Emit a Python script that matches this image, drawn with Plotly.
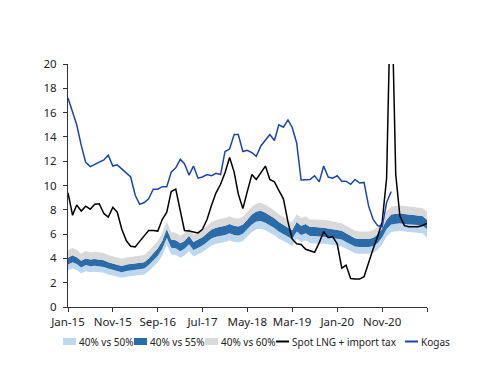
import pandas as pd
import plotly.graph_objects as go

# ---------------- data ----------------
months = pd.date_range("2015-01-01", "2021-09-01", freq="MS")

band_low = [3.00,3.18,3.05,2.77,2.95,2.86,2.91,2.86,2.82,2.68,2.59,2.49,2.40,2.49,2.54,2.59,2.63,2.68,2.95,3.32,
            3.69,4.24,5.12,4.33,4.29,4.06,4.24,4.61,4.15,4.33,4.52,4.79,5.07,5.21,5.25,5.35,5.48,5.35,5.30,5.44,
            5.81,6.17,6.40,6.45,6.31,6.13,5.90,5.62,5.44,5.25,5.02,5.62,5.35,5.48,5.25,5.25,5.25,5.21,5.16,5.12,
            5.07,4.98,4.79,4.61,4.43,4.38,4.38,4.38,4.47,4.70,5.16,5.81,6.17,6.22,6.27,6.22,6.17,6.17,6.13,6.08,5.70]
band_50 = [3.50,3.69,3.54,3.26,3.45,3.35,3.40,3.35,3.30,3.16,3.06,2.97,2.87,2.97,3.02,3.06,3.11,3.16,3.45,3.83,
           4.21,4.79,5.69,4.88,4.83,4.59,4.79,5.17,4.69,4.88,5.07,5.36,5.65,5.79,5.84,5.93,6.08,5.93,5.89,6.03,
           6.41,6.79,7.03,7.08,6.94,6.75,6.51,6.22,6.03,5.84,5.60,6.22,5.93,6.08,5.84,5.84,5.84,5.79,5.74,5.69,
           5.65,5.55,5.36,5.17,4.98,4.93,4.93,4.93,5.02,5.26,5.74,6.41,6.79,6.84,6.89,6.84,6.79,6.79,6.75,6.70,6.41]
band_55 = [4.05,4.26,4.10,3.80,4.00,3.90,3.95,3.90,3.85,3.69,3.59,3.49,3.38,3.49,3.54,3.59,3.64,3.69,4.00,4.41,
           4.83,5.44,6.42,5.55,5.49,5.24,5.44,5.86,5.34,5.55,5.75,6.06,6.37,6.52,6.58,6.68,6.83,6.68,6.63,6.78,
           7.19,7.61,7.86,7.92,7.76,7.55,7.30,6.99,6.78,6.58,6.32,6.99,6.68,6.83,6.58,6.58,6.58,6.52,6.47,6.42,
           6.37,6.27,6.06,5.86,5.65,5.60,5.60,5.60,5.70,5.96,6.47,7.19,7.61,7.66,7.71,7.66,7.61,7.61,7.55,7.50,7.19]
band_60 = [4.66,4.86,4.71,4.39,4.60,4.50,4.55,4.50,4.45,4.29,4.19,4.08,3.98,4.08,4.13,4.19,4.24,4.29,4.60,5.02,
           5.44,6.06,7.06,6.17,6.12,5.86,6.06,6.48,5.96,6.17,6.38,6.69,7.00,7.16,7.21,7.32,7.47,7.32,7.27,7.42,
           7.84,8.26,8.52,8.57,8.41,8.20,7.94,7.63,7.42,7.21,6.95,7.63,7.32,7.47,7.21,7.21,7.21,7.16,7.11,7.06,
           7.00,6.90,6.69,6.48,6.27,6.22,6.22,6.22,6.33,6.59,7.11,7.84,8.26,8.31,8.36,8.31,8.26,8.26,8.20,8.15,7.84]

spot_lng = [9.4,7.55,8.4,7.9,8.3,8.05,8.45,8.5,7.7,7.4,8.2,7.8,6.4,5.45,5.0,4.95,5.4,5.9,6.3,6.3,
            6.25,7.2,7.8,9.5,9.7,7.9,6.3,6.25,6.2,6.1,6.4,7.2,8.4,9.4,10.1,11.05,12.3,11.1,9.3,8.1,
            9.5,10.9,10.5,11.05,11.6,10.5,10.3,9.6,8.9,7.0,5.6,5.2,5.15,4.75,4.6,4.5,5.3,6.2,5.7,5.8,
            5.2,3.2,3.45,2.35,2.3,2.3,2.5,3.7,4.8,5.8,7.0,10.6,28.0,10.9,7.5,6.7,6.6,6.6,6.6,6.7,6.9]

kogas = [17.2,16.1,15.0,13.3,11.9,11.55,11.75,11.9,12.1,12.5,11.6,11.7,11.35,11.0,10.7,9.2,8.45,8.6,8.9,9.7,
         9.7,9.9,9.9,11.1,11.45,12.15,11.8,10.85,11.6,10.6,10.7,10.9,10.8,11.0,10.9,12.8,13.0,14.2,14.2,12.8,
         12.9,12.7,12.4,13.25,13.7,14.2,13.7,15.0,14.8,15.4,14.8,13.5,10.45,10.5,10.5,10.8,10.3,11.6,10.7,10.6,
         10.8,10.35,10.35,10.1,10.5,10.2,10.25,8.3,7.2,6.7,6.6,8.6,9.5]

tick_dates = ["2015-01-01", "2015-11-01", "2016-09-01", "2017-07-01", "2018-05-01",
              "2019-03-01", "2020-01-01", "2020-11-01", "2021-09-01"]
tick_labels = ["Jan-15", "Nov-15", "Sep-16", "Jul-17", "May-18", "Mar-19", "Jan-20", "Nov-20", ""]

series_names = ["40% vs 50%", "40% vs 55%", "40% vs 60%", "Spot LNG + import tax", "Kogas"]

# ---------------- styles ----------------
C_LIGHT = "#BDD7EE"
C_DARK = "#2A6BA8"
C_GREY = "#D9D9D9"
C_SPOT = "#000000"
C_KOGAS = "#1A45B0"
FONT = "Noto Sans"

fig = go.Figure()
fig.add_trace(go.Scatter(x=months, y=band_low, mode="lines", line=dict(width=0, color=C_LIGHT),
                         showlegend=False, hoverinfo="skip"))
fig.add_trace(go.Scatter(x=months, y=band_50, mode="lines", line=dict(width=0, color=C_LIGHT),
                         fill="tonexty", fillcolor=C_LIGHT, name=series_names[0], showlegend=False))
fig.add_trace(go.Scatter(x=months, y=band_55, mode="lines", line=dict(width=0, color=C_DARK),
                         fill="tonexty", fillcolor=C_DARK, name=series_names[1], showlegend=False))
fig.add_trace(go.Scatter(x=months, y=band_60, mode="lines", line=dict(width=0, color=C_GREY),
                         fill="tonexty", fillcolor=C_GREY, name=series_names[2], showlegend=False))
fig.add_trace(go.Scatter(x=months, y=spot_lng, mode="lines", line=dict(width=1.5, color=C_SPOT),
                         name=series_names[3], showlegend=False))
fig.add_trace(go.Scatter(x=months[:len(kogas)], y=kogas, mode="lines", line=dict(width=1.5, color=C_KOGAS),
                         name=series_names[4], showlegend=False))

# page body has an 8px margin, so the figure is drawn 8px smaller/offset
OFF = 8
W, H = 500 - OFF, 386 - OFF
L, R, T, B = 68 - OFF, 73, 64 - OFF, 79
pw, ph = W - L - R, H - T - B

def px(x):
    return (x - OFF - L) / pw

def py(y):
    return (H - B - (y - OFF)) / ph

shapes = []
annotations = []
legend_items = [
    ("box", C_LIGHT, 63, 77),
    ("box", C_DARK, 134, 148),
    ("box", C_GREY, 205, 219),
    ("line", C_SPOT, 276, 290),
    ("line", C_KOGAS, 405, 419),
]
ly = 341.5
for (kind, color, x0, tx), name in zip(legend_items, series_names):
    if kind == "box":
        shapes.append(dict(type="rect", xref="paper", yref="paper",
                           x0=px(x0), x1=px(x0 + 13), y0=py(ly + 3.5), y1=py(ly - 3.5),
                           fillcolor=color, line=dict(width=0)))
    else:
        shapes.append(dict(type="line", xref="paper", yref="paper",
                           x0=px(x0), x1=px(x0 + 13), y0=py(ly), y1=py(ly),
                           line=dict(color=color, width=2)))
    annotations.append(dict(text=name, xref="paper", yref="paper", x=px(tx), y=py(ly),
                            xanchor="left", yanchor="middle", showarrow=False,
                            font=dict(family=FONT, size=10, color="#222")))

fig.update_layout(
    width=W, height=H,
    margin=dict(l=L, r=R, t=T, b=B, pad=0),
    paper_bgcolor="white", plot_bgcolor="white",
    showlegend=False,
    shapes=shapes, annotations=annotations,
    font=dict(family=FONT, size=11.5, color="#222"),
)
fig.update_xaxes(
    type="date", range=["2015-01-01", "2021-09-01"],
    tickmode="array", tickvals=tick_dates, ticktext=tick_labels,
    ticks="outside", ticklen=4, tickcolor="#333", tickwidth=1,
    showline=True, linecolor="#333", linewidth=1,
    showgrid=False, zeroline=False,
)
fig.update_yaxes(
    range=[0, 20], dtick=2, tick0=0,
    ticks="outside", ticklen=4, tickcolor="#333", tickwidth=1,
    showline=True, linecolor="#333", linewidth=1,
    showgrid=False, zeroline=False, ticklabelstandoff=4,
)

fig.write_html("out.html")
